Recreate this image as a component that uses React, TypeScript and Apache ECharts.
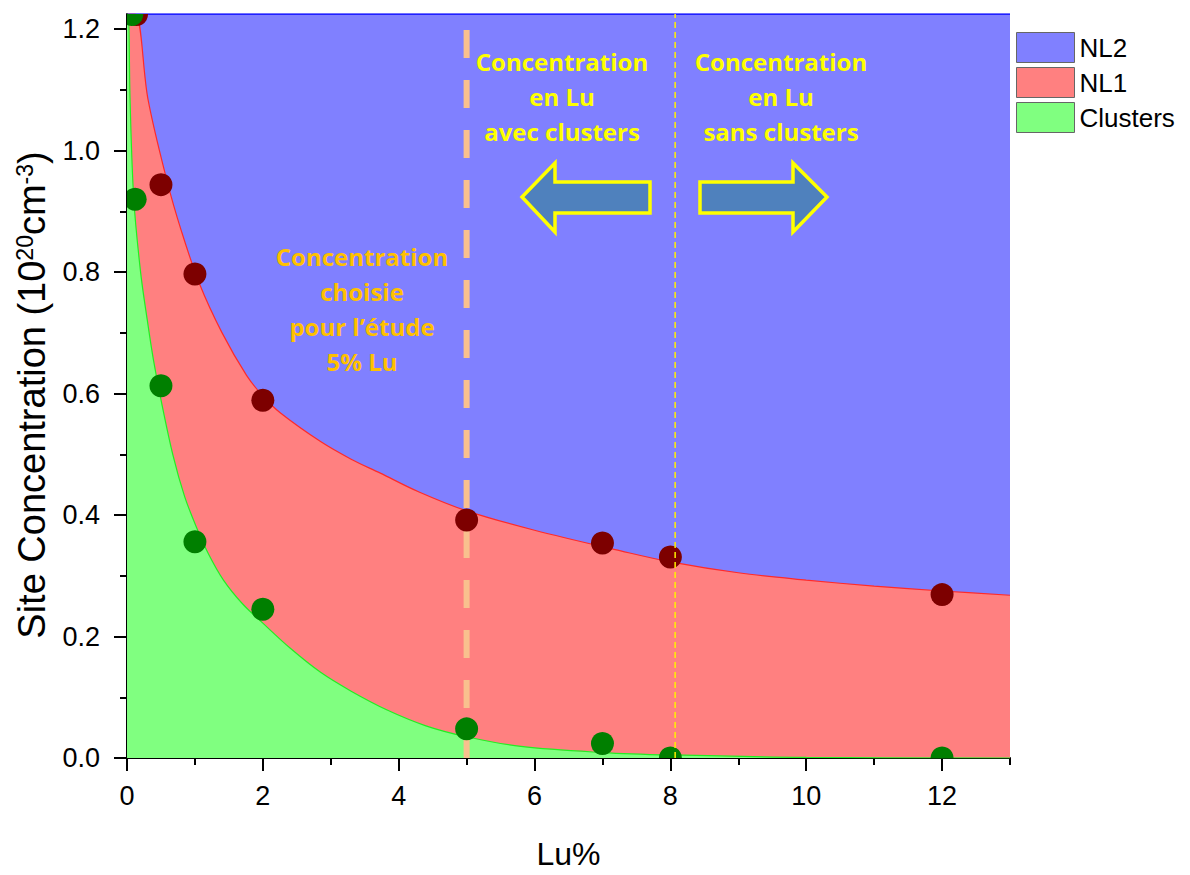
import React, { useEffect, useRef } from "react";
import * as echarts from "echarts";

// ---- axes ----
const X_MIN = 0;
const X_MAX = 13;
const Y_MIN = 0;
const Y_MAX = 1.225;
const xTickValues = [0, 2, 4, 6, 8, 10, 12];
const xMinorTickValues = [1, 3, 5, 7, 9, 11, 13];
const yTickValues = [0, 0.2, 0.4, 0.6, 0.8, 1.0, 1.2];
const yMinorTickValues = [0.1, 0.3, 0.5, 0.7, 0.9, 1.1];

// ---- NL2 (upper band, fills to the top of the plot) ----
const nl2X = [0, 13];
const nl2Y = [1.225, 1.225];

// ---- NL1 fitted curve (upper edge of the red band) ----
const nl1CurveX = [0, 0.12, 0.31, 0.585, 0.8, 1.07, 1.4, 1.76, 2.0, 2.26, 2.85, 3.3, 3.73, 4.3, 5.0, 6.0, 7.27, 8.0, 9.0, 10.0, 11.0, 12.0, 13.0];
const nl1CurveY = [1.225, 1.225, 1.084, 0.952, 0.868, 0.78, 0.70, 0.63, 0.596, 0.568, 0.521, 0.492, 0.469, 0.438, 0.407, 0.375, 0.341, 0.323, 0.305, 0.293, 0.283, 0.275, 0.268];

// ---- Clusters fitted curve (upper edge of the green band) ----
const clCurveX = [0, 0.02, 0.045, 0.1, 0.2, 0.3, 0.39, 0.5, 0.68, 0.85, 1.03, 1.2, 1.42, 1.7, 2.0, 2.4, 2.85, 3.3, 3.83, 4.4, 5.0, 5.8, 7.0, 8.0, 10.0, 13.0];
const clCurveY = [1.225, 1.225, 1.084, 0.92, 0.80, 0.72, 0.655, 0.59, 0.497, 0.43, 0.378, 0.336, 0.293, 0.254, 0.222, 0.181, 0.141, 0.11, 0.079, 0.053, 0.035, 0.019, 0.009, 0.005, 0.001, 0];

// ---- measured points ----
const nl1PointX = [0.14, 0.5, 1, 2, 5, 7, 8, 12];
const nl1PointY = [1.224, 0.944, 0.797, 0.589, 0.392, 0.354, 0.331, 0.269];
const clPointX = [0.07, 0.12, 0.5, 1, 2, 5, 7, 8, 12];
const clPointY = [1.224, 0.92, 0.613, 0.356, 0.245, 0.048, 0.024, 0, 0];

// ---- reference lines ----
const chosenX = 5;
const limitX = 8.07;

const zip = (xs: number[], ys: number[]) => xs.map((x, i) => [x, ys[i]]);

const FONT = "'Liberation Sans', Arial, sans-serif";
const ANNOT_FONT = "'Open Sans', Lato, sans-serif";

export default function App() {
  const ref = useRef<HTMLDivElement>(null);

  useEffect(() => {
    if (!ref.current) return;
    const chart = echarts.init(ref.current, null, { renderer: "svg" });

    const dotSeries = (name: string, xs: number[], ys: number[], color: string) => ({
      name,
      type: "custom",
      data: zip(xs, ys),
      encode: { x: 0, y: 1 },
      clip: true,
      z: 4,
      silent: true,
      renderItem: (_params: any, api: any) => {
        const p = api.coord([api.value(0), api.value(1)]);
        return {
          type: "circle",
          shape: { cx: p[0], cy: p[1], r: 11.5 },
          style: { fill: color },
        };
      },
    });

    const annot = (text: string, x: number, y: number, fill: string) => ({
      type: "text",
      x,
      y,
      z: 100,
      style: {
        text,
        fill,
        fontSize: 24,
        fontWeight: "bold",
        fontFamily: ANNOT_FONT,
        align: "center",
        verticalAlign: "middle",
        lineHeight: 35,
      },
    });

    const option: any = {
      animation: false,
      backgroundColor: "#ffffff",
      grid: { left: 127, top: 14, width: 883, height: 747, containLabel: false },
      legend: {
        orient: "vertical",
        left: 1016,
        top: 32,
        padding: 0,
        itemWidth: 58,
        itemHeight: 30,
        itemGap: 4,
        icon: "rect",
        selectedMode: false,
        itemStyle: { borderColor: "#666666", borderWidth: 1 },
        textStyle: { fontSize: 26, fontFamily: FONT, color: "#000" },
        data: [
          { name: "NL2", itemStyle: { color: "#8080FF" } },
          { name: "NL1", itemStyle: { color: "#FF8080" } },
          { name: "Clusters", itemStyle: { color: "#80FF80" } },
        ],
      },
      xAxis: [
        {
          type: "value",
          min: X_MIN,
          max: X_MAX,
          interval: 2,
          position: "bottom",
          axisLine: { lineStyle: { color: "#000", width: 2 } },
          axisTick: { length: 13, lineStyle: { color: "#000", width: 2 }, customValues: xTickValues },
          axisLabel: {
            customValues: xTickValues,
            fontSize: 27,
            fontFamily: FONT,
            color: "#000",
            margin: 24,
          },
          splitLine: { show: false },
          name: "Lu%",
          nameLocation: "middle",
          nameGap: 80,
          nameTextStyle: { fontSize: 32, fontFamily: FONT, color: "#000" },
        },
        {
          type: "value",
          min: X_MIN,
          max: X_MAX,
          interval: 1,
          position: "bottom",
          axisLine: { show: false },
          axisTick: { length: 7, lineStyle: { color: "#000", width: 2 }, customValues: xMinorTickValues },
          axisLabel: { show: false },
          splitLine: { show: false },
        },
      ],
      yAxis: [
        {
          type: "value",
          min: Y_MIN,
          max: Y_MAX,
          interval: 0.2,
          position: "left",
          axisLine: { show: true, lineStyle: { color: "#000", width: 2 } },
          axisTick: { show: true, length: 13, lineStyle: { color: "#000", width: 2 }, customValues: yTickValues },
          axisLabel: {
            customValues: yTickValues,
            formatter: (v: number) => v.toFixed(1),
            fontSize: 27,
            fontFamily: FONT,
            color: "#000",
            margin: 27,
          },
          splitLine: { show: false },
        },
        {
          type: "value",
          min: Y_MIN,
          max: Y_MAX,
          interval: 0.1,
          position: "left",
          axisLine: { show: false },
          axisTick: { show: true, length: 7, lineStyle: { color: "#000", width: 2 }, customValues: yMinorTickValues },
          axisLabel: { show: false },
          splitLine: { show: false },
        },
      ],
      series: [
        {
          name: "NL2",
          type: "line",
          data: zip(nl2X, nl2Y),
          showSymbol: false,
          silent: true,
          z: 1,
          lineStyle: { color: "#0000FF", width: 1.5 },
          itemStyle: { color: "#8080FF" },
          areaStyle: { color: "#8080FF", opacity: 1 },
        },
        {
          name: "NL1",
          type: "line",
          data: zip(nl1CurveX, nl1CurveY),
          smooth: 0.35,
          showSymbol: false,
          silent: true,
          z: 1,
          lineStyle: { color: "#FF2A2A", width: 1.2 },
          itemStyle: { color: "#FF8080" },
          areaStyle: { color: "#FF8080", opacity: 1 },
        },
        {
          name: "Clusters",
          type: "line",
          data: zip(clCurveX, clCurveY),
          smooth: 0.35,
          showSymbol: false,
          silent: true,
          z: 1,
          lineStyle: { color: "#22EE22", width: 1.2 },
          itemStyle: { color: "#80FF80" },
          areaStyle: { color: "#80FF80", opacity: 1 },
        },
        {
          name: "chosen",
          type: "line",
          data: [[chosenX, Y_MIN], [chosenX, Y_MAX]],
          showSymbol: false,
          silent: true,
          z: 3,
          lineStyle: { color: "#F9C08E", width: 6, type: [28, 22], cap: "butt" },
        },
        dotSeries("NL1 points", nl1PointX, nl1PointY, "#7D0000"),
        dotSeries("Clusters points", clPointX, clPointY, "#007F00"),
        {
          name: "limit",
          type: "line",
          data: [[limitX, Y_MIN], [limitX, Y_MAX]],
          showSymbol: false,
          silent: true,
          z: 5,
          lineStyle: { color: "#FFF000", width: 1.5, type: [6, 4] },
        },
      ],
      graphic: [
        {
          type: "text",
          x: 32,
          y: 395,
          rotation: Math.PI / 2,
          z: 100,
          style: {
            text: "Site Concentration (10{sup|20}cm{sup|-3})",
            fontSize: 38,
            fontFamily: FONT,
            fill: "#000",
            align: "center",
            verticalAlign: "middle",
            rich: {
              sup: { fontSize: 23, fontFamily: FONT, fill: "#000", verticalAlign: "top", lineHeight: 38 },
            },
          },
        },
        {
          type: "polygon",
          z: 100,
          shape: { points: [[522, 197], [555, 163], [555, 182], [650, 182], [650, 213], [555, 213], [555, 232]] },
          style: { fill: "#4F81BD", stroke: "#FFFF00", lineWidth: 3.5, lineJoin: "miter" },
        },
        {
          type: "polygon",
          z: 100,
          shape: { points: [[700, 182], [793, 182], [793, 163], [827, 197], [793, 232], [793, 213], [700, 213]] },
          style: { fill: "#4F81BD", stroke: "#FFFF00", lineWidth: 3.5, lineJoin: "miter" },
        },
        annot("Concentration\nen Lu\navec clusters", 562, 96, "#FFFF00"),
        annot("Concentration\nen Lu\nsans clusters", 781, 96, "#FFFF00"),
        annot("Concentration\nchoisie\npour l\u2019\u00e9tude\n5% Lu", 362, 309, "#FFC000"),
      ],
    };

    chart.setOption(option);
    return () => chart.dispose();
  }, []);

  return (
    <div
      ref={ref}
      style={{ position: "fixed", left: 0, top: 0, width: 1190, height: 875, background: "#fff" }}
    />
  );
}
